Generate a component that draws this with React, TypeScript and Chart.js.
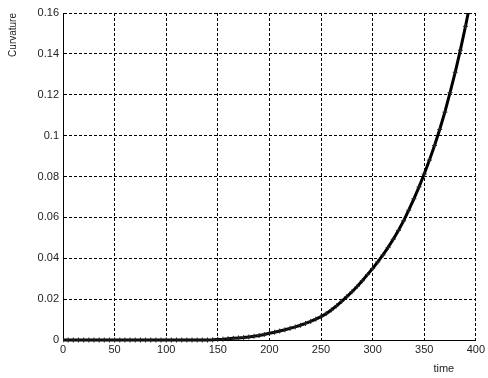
import React, { useEffect, useRef } from "react";
import { Chart, registerables } from "chart.js";

Chart.register(...registerables);

const timeValues = [
  0, 5, 10, 15, 20, 25, 30, 35, 40, 45, 50, 55, 60, 65, 70, 75, 80, 85, 90, 95,
  100, 105, 110, 115, 120, 125, 130, 135, 140, 145, 150, 155, 160, 165, 170, 175,
  180, 185, 190, 195, 200, 205, 210, 215, 220, 225, 230, 235, 240, 245, 250, 255,
  260, 265, 270, 275, 280, 285, 290, 295, 300, 305, 310, 315, 320, 325, 330, 335,
  340, 345, 350, 355, 360, 365, 370, 375, 380, 385, 390, 393,
];

const curvatureValues = [
  0, 0, 0, 0, 0, 0, 0, 0, 0, 0, 0, 0, 0, 0, 0, 0, 0, 0, 0, 0,
  0, 0, 0, 0, 0, 0, 0, 0, 0, 0.0001, 0.0003, 0.0004, 0.0006, 0.0008, 0.001, 0.0012,
  0.0015, 0.0018, 0.0022, 0.0027, 0.0033, 0.0038, 0.0044, 0.005, 0.0057, 0.0064, 0.0072, 0.0081, 0.0091, 0.0102, 0.0114, 0.0129,
  0.0147, 0.0167, 0.0189, 0.0212, 0.0236, 0.0262, 0.029, 0.032, 0.035, 0.0382, 0.0416, 0.0453, 0.0493, 0.0536, 0.0583, 0.0635,
  0.0691, 0.0749, 0.0812, 0.088, 0.0952, 0.103, 0.1115, 0.121, 0.131, 0.1418, 0.1535, 0.161,
];

const xTitle = "time";
const yTitle = "Curvature";

const FONT = "'Liberation Sans', Arial, sans-serif";

export default function App() {
  const canvasRef = useRef<HTMLCanvasElement | null>(null);

  useEffect(() => {
    document.body.style.margin = "0";
    const canvas = canvasRef.current;
    if (!canvas) return;

    const points = timeValues.map((t, i) => ({ x: t, y: curvatureValues[i] }));

    const xTitlePlugin = {
      id: "xTitlePlugin",
      afterDraw(chart: any) {
        const { ctx, chartArea } = chart;
        ctx.save();
        ctx.fillStyle = "#222";
        ctx.font = `11px ${FONT}`;
        ctx.textAlign = "center";
        ctx.textBaseline = "alphabetic";
        ctx.fillText(xTitle, chartArea.right - 32, chartArea.bottom + 32);
        ctx.restore();
      },
    };

    const chart = new Chart(canvas, {
      type: "line",
      data: {
        datasets: [
          {
            data: points,
            borderColor: "#000",
            borderWidth: 3,
            backgroundColor: "#000",
            pointStyle: "cross",
            pointRadius: 2.5,
            pointBorderWidth: 1,
            pointBorderColor: "#222",
            fill: false,
            tension: 0,
            clip: { left: 0, top: 0, right: 0, bottom: 3 },
          },
        ],
      },
      options: {
        responsive: false,
        animation: false,
        layout: { padding: { top: 13, right: 8, left: 0, bottom: 0 } },
        plugins: {
          legend: { display: false },
          tooltip: { enabled: false },
        },
        scales: {
          x: {
            type: "linear",
            min: 0,
            max: 400,
            ticks: {
              stepSize: 50,
              color: "#222",
              font: { family: FONT, size: 11 },
              padding: 3,
              maxRotation: 0,
            },
            grid: { color: "#000", lineWidth: 1, drawTicks: false },
            border: { display: true, color: "#000", width: 1, dash: [3, 2] },
            afterFit: (scale: any) => {
              scale.height = 38;
            },
          },
          y: {
            type: "linear",
            min: 0,
            max: 0.16,
            ticks: {
              stepSize: 0.02,
              color: "#222",
              font: { family: FONT, size: 11 },
              padding: 4,
              callback: (v: any) => String(Number(Number(v).toFixed(2))),
            },
            grid: { color: "#000", lineWidth: 1, drawTicks: false },
            border: { display: true, color: "#000", width: 1, dash: [3, 2] },
            title: {
              display: true,
              text: yTitle,
              align: "end",
              color: "#222",
              font: { family: FONT, size: 10 },
              padding: { top: 7, bottom: 4 },
            },
            afterFit: (scale: any) => {
              scale.width = 63;
            },
          },
        },
      },
      plugins: [xTitlePlugin],
    } as any);

    return () => chart.destroy();
  }, []);

  return (
    <div style={{ position: "absolute", left: 0, top: 0, width: 488, height: 378, background: "#fff" }}>
      <canvas ref={canvasRef} width={488} height={378} />
    </div>
  );
}
